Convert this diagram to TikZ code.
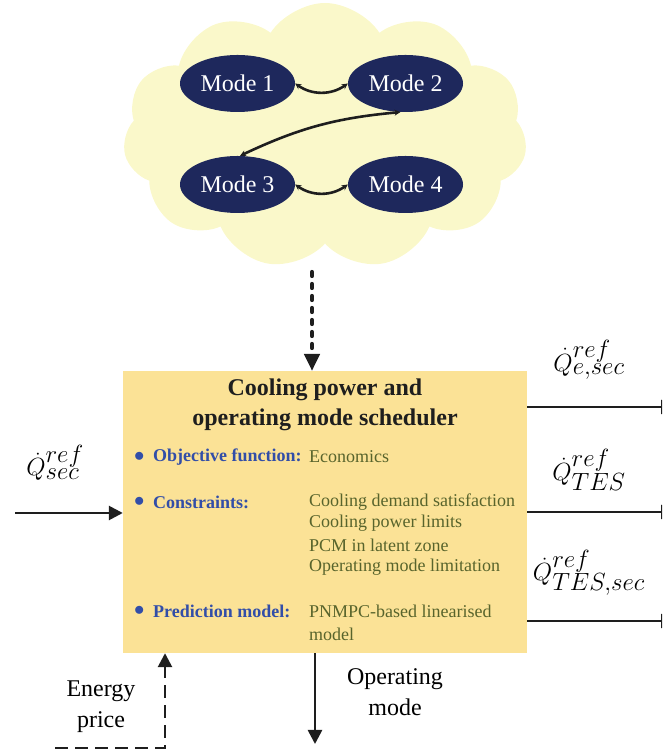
\documentclass[tikz,border=0pt]{standalone}
\usepackage{fontspec}
\setmainfont{Liberation Serif}
\usetikzlibrary{arrows.meta}
\usetikzlibrary{shapes.symbols}
\usetikzlibrary{shapes.geometric}

\definecolor{cloudyellow}{RGB}{250,248,202}
\definecolor{modeblue}{RGB}{30,40,92}
\definecolor{boxyellow}{RGB}{251,226,150}
\definecolor{itemblue}{RGB}{50,78,168}
\definecolor{itemolive}{RGB}{88,100,44}
\definecolor{linegray}{RGB}{30,30,30}

\tikzset{
  modenode/.style={ellipse, fill=modeblue, text=white, minimum width=115pt, minimum height=57pt, inner sep=0pt, font=\fontsize{24}{26}\selectfont},
  modelink/.style={linegray, line width=2.6pt, {Stealth[length=6pt,width=6pt]}-{Stealth[length=6pt,width=6pt]}},
  bigtip/.style={-{Triangle[length=14pt,width=14pt]}},
  flow/.style={linegray, line width=2.6pt, bigtip},
  itemlabel/.style={anchor=west, inner sep=0pt, text=itemblue, font=\fontsize{18}{21}\selectfont\bfseries},
  itemvalue/.style={anchor=west, inner sep=0pt, text=itemolive, font=\fontsize{18}{21}\selectfont},
  signal/.style={inner sep=0pt, font=\fontsize{33}{36}\selectfont},
  plaintext/.style={inner sep=0pt, align=center, font=\fontsize{24}{31}\selectfont}
}

\begin{document}
\begin{tikzpicture}[x=1pt, y=1pt]
\useasboundingbox (0,0) rectangle (662,752);
\clip (0,0) rectangle (662,752);

% mode cloud
\node[cloud, cloud puffs=11, cloud puff arc=115, aspect=1.5, fill=cloudyellow, minimum width=404pt, minimum height=266pt, inner sep=0pt] (modes) at (325,616) {};

\node[modenode] (m1) at (237.5,668.5) {Mode 1};
\node[modenode] (m2) at (405.5,668.5) {Mode 2};
\node[modenode] (m3) at (237.5,567.5) {Mode 3};
\node[modenode] (m4) at (405.5,567.5) {Mode 4};

\draw[modelink] (m1.east) to[bend right=35] (m2.west);
\draw[modelink] (m3.east) to[bend right=35] (m4.west);
\draw[modelink] (m2.-100) to[bend right=10] (m3.85);

% scheduler
\node[fill=boxyellow, minimum width=404pt, minimum height=282pt, inner sep=0pt] (sched) at (325,240) {};

\node[inner sep=0pt, align=center, font=\fontsize{24}{30}\selectfont\bfseries, text=linegray] (title) at (325,347) {Cooling power and\\operating mode scheduler};

\foreach \y/\lbl in {295/Objective function:, 250/Constraints:, 141/Prediction model:} {
  \node[itemlabel, font=\fontsize{22}{22}\selectfont] at (134,\y) {$\bullet$};
  \node[itemlabel] at (153,\y) {\lbl};
}
\node[itemvalue] at (309,295) {Economics};
\foreach \txt [count=\i] in {Cooling demand satisfaction, Cooling power limits, PCM in latent zone, Operating mode limitation}
  \node[itemvalue] at (309,{250-21.7*(\i-1)}) {\txt};
\node[itemvalue] at (309,141) {PNMPC-based linearised};
\node[itemvalue] at (309,118) {model};

% modes to scheduler
\draw[flow, line width=4.2pt, line cap=round, dash pattern=on 4pt off 8pt, -{Triangle[length=17pt,width=15pt,line cap=butt]}] (312,480) -- (312,381);

% input
\coordinate (qin) at (15,239);
\draw[flow] (qin) -- (sched.west |- qin);
\node[signal] (qsec) at (55,289) {$\dot{Q}^{ref}_{sec}$};

% outputs
\foreach \y/\nm/\lab/\ly in {345/qe/{\dot{Q}^{ref}_{e,sec}}/392, 240/qtes/{\dot{Q}^{ref}_{TES}}/282, 131/qtessec/{\dot{Q}^{ref}_{TES,sec}}/179} {
  \coordinate (\nm) at (675,\y);
  \draw[flow] (sched.east |- \nm) -- (\nm);
  \node[signal] at (589,\ly) {$\lab$};
}

% operating mode
\coordinate (opmode) at (315,8);
\draw[flow] (sched.south -| opmode) -- (opmode);
\node[plaintext] (oplabel) at (395,60) {Operating\\mode};

% energy price
\coordinate (price) at (55,4);
\draw[flow, dash pattern=on 13pt off 7pt] (price) -- (165,4) -- (sched.south -| 165,0);
\node[plaintext] (pricelabel) at (101,45) {Energy\\price};

\end{tikzpicture}
\end{document}
